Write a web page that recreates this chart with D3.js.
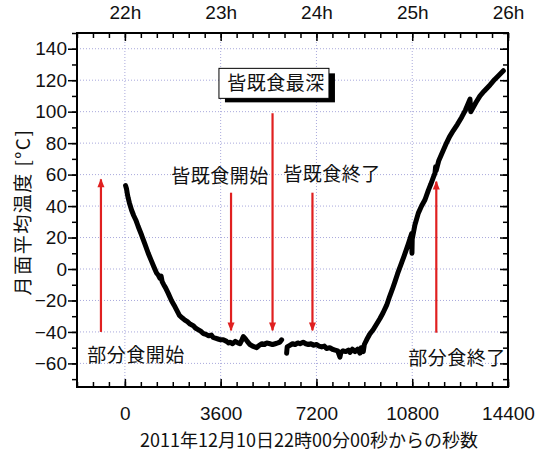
<body style="margin:0"></body>

<script src='https://d3js.org/d3.v7.min.js'></script>
<style>
    svg text { font-family: "Liberation Sans", Arial, sans-serif; fill: #111; }
    svg .jp { font-family: "Noto Sans CJK JP", sans-serif; }
</style>
<script>

    // seconds since 2011-12-10 22:00:00, mean lunar surface temperature
    var seg1Time = [26, 60, 100, 125, 170, 250, 330, 414, 500, 627, 750, 877, 1000, 1100, 1190, 1260, 1320, 1360, 1400,
        1460, 1530, 1630, 1750, 1850, 1943, 2050, 2150, 2256, 2350, 2450, 2570, 2650, 2750, 2850, 2945, 3050, 3150,
        3250, 3320, 3400, 3500, 3600, 3700, 3823, 3900, 3950, 4050, 4150, 4250, 4324, 4400, 4450, 4512, 4600, 4700,
        4800, 4952, 5050, 5150, 5250, 5328, 5452, 5550, 5650, 5750, 5828, 5891];
    var seg1Temp = [53, 51, 47, 45, 42, 37.5, 34, 31, 27, 21.6, 16, 10, 5, 1, -2.5, -4, -6, -4.5, -8,
        -10, -12, -15.5, -20, -23, -26, -29.5, -31, -32.5, -33.5, -35, -36, -37.5, -38.5, -39.5, -41, -41.5, -42.5,
        -42, -43.5, -44, -44.5, -45, -45, -46, -47, -46.5, -47.5, -46, -47, -47.5, -45, -43, -44, -46, -48,
        -49, -50, -48.5, -47.5, -48, -47, -47.5, -48, -47.5, -47, -46.5, -45];

    var seg2Time = [6079, 6100, 6200, 6300, 6400, 6500, 6580, 6700, 6800, 6900, 7000, 7080, 7200, 7300, 7400, 7500,
        7582, 7700, 7800, 7900, 8000, 8084, 8120, 8200, 8300, 8400, 8460, 8550, 8650, 8750, 8836, 8880, 8960, 9000,
        9087, 9200, 9337, 9463, 9588, 9700, 9839, 9950, 10050, 10152, 10250, 10403, 10500, 10654, 10740, 10779,
        10790, 10800, 10900, 11029, 11150, 11280, 11405, 11500, 11600, 11656, 11680, 11700, 11800, 11968, 12100,
        12200, 12344, 12500, 12659, 12800, 12900, 12972, 13000, 13100, 13200, 13348, 13500, 13724, 13900, 14050, 14225];
    var seg2Temp = [-53.5, -49.5, -48.5, -47.5, -48, -47, -47.5, -46.5, -47.5, -48, -47.5, -48.5, -48, -49, -49.5, -49,
        -50.5, -50, -51, -51.5, -52, -56, -53, -52, -52.5, -51.5, -53, -51, -52.5, -51, -53.5, -50, -52.5, -48,
        -45, -41.5, -38.5, -35, -31.5, -28, -23, -17.5, -13, -8, -3, 4, 8.5, 16, 20.5, 22.5,
        10, 19, 28, 35.5, 40, 44, 50, 54, 58.5, 61, 65, 62.5, 69, 75.5, 80.5,
        84, 88, 92, 96.5, 101, 105, 108, 100, 103, 106, 110, 113, 117, 120.5, 123, 126];

    // eclipse events
    var eventNames = ["部分食開始", "皆既食開始", "皆既食最深", "皆既食終了", "部分食終了"];
    var eventTime = [-900, 3990, 5550, 7050, 11705];
    var arrowFrom = [-40, 48.5, 99, 48.5, -40.5];
    var arrowTo = [57, -39, -39, -39, 55.5];
    var labelTime = [414, 3572, 5678, 7783, 12483];
    var labelTemp = [-54.7, 59, 118, 60, -56.6];

    var xTicks = [0, 3600, 7200, 10800, 14400];
    var hourLabels = ["22h", "23h", "24h", "25h", "26h"];
    var yTicks = [-60, -40, -20, 0, 20, 40, 60, 80, 100, 120, 140];

    var width = 539, height = 452;
    var plotLeft = 77, plotRight = 508, plotTop = 33, plotBottom = 387;

    var svg = d3.select("body").append("svg")
        .attr("width", width)
        .attr("height", height);

    var x = d3.scaleLinear().domain([-1800, 14400]).range([plotLeft, plotRight]);
    var y = d3.scaleLinear().domain([-75, 150]).range([plotBottom, plotTop]);

    // grid
    svg.append("g").selectAll("line").data(yTicks).enter().append("line")
        .attr("x1", plotLeft).attr("x2", plotRight)
        .attr("y1", function (d) { return y(d); }).attr("y2", function (d) { return y(d); })
        .attr("stroke", "#a9a9dc").attr("stroke-width", 1).attr("stroke-dasharray", "1,2");
    svg.append("g").selectAll("line").data(xTicks.slice(0, 4)).enter().append("line")
        .attr("y1", plotTop).attr("y2", plotBottom)
        .attr("x1", function (d) { return x(d); }).attr("x2", function (d) { return x(d); })
        .attr("stroke", "#a9a9dc").attr("stroke-width", 1).attr("stroke-dasharray", "1,2");

    // axes
    var minorX = d3.range(-1800, 14401, 600);
    var minorY = d3.range(-70, 151, 10);

    var bottomAxis = d3.axisBottom(x).tickValues(xTicks).tickSize(-8).tickPadding(20).tickFormat(d3.format("d"));
    var topAxis = d3.axisTop(x).tickValues(xTicks).tickSize(-8).tickPadding(14)
        .tickFormat(function (d, i) { return hourLabels[i]; });
    var leftAxis = d3.axisLeft(y).tickValues(yTicks).tickSize(9).tickPadding(1);
    var rightAxis = d3.axisRight(y).tickValues(yTicks).tickSize(-8).tickFormat("");

    function styleAxis(g) {
        g.select(".domain").remove();
        g.selectAll(".tick line").attr("stroke", "#000").attr("stroke-width", 1.5);
        g.selectAll("text").style("font-size", "19px").attr("fill", "#111");
    }

    svg.append("g").attr("transform", "translate(0," + plotBottom + ")").call(bottomAxis).call(styleAxis);
    svg.append("g").attr("transform", "translate(0," + plotTop + ")").call(topAxis).call(styleAxis);
    svg.append("g").attr("transform", "translate(" + plotLeft + ",0)").call(leftAxis).call(styleAxis);
    svg.append("g").attr("transform", "translate(" + plotRight + ",0)").call(rightAxis).call(styleAxis);

    svg.append("g").attr("transform", "translate(0," + plotBottom + ")")
        .call(d3.axisBottom(x).tickValues(minorX).tickSize(-5).tickFormat("")).call(styleAxis);
    svg.append("g").attr("transform", "translate(0," + plotTop + ")")
        .call(d3.axisTop(x).tickValues(minorX).tickSize(-5).tickFormat("")).call(styleAxis);
    svg.append("g").attr("transform", "translate(" + plotLeft + ",0)")
        .call(d3.axisLeft(y).tickValues(minorY).tickSize(5).tickFormat("")).call(styleAxis);
    svg.append("g").attr("transform", "translate(" + plotRight + ",0)")
        .call(d3.axisRight(y).tickValues(minorY).tickSize(-5).tickFormat("")).call(styleAxis);

    svg.append("rect")
        .attr("x", plotLeft).attr("y", plotTop)
        .attr("width", plotRight - plotLeft).attr("height", plotBottom - plotTop)
        .attr("fill", "none").attr("stroke", "#000").attr("stroke-width", 2);

    // arrows
    svg.append("defs").append("marker")
        .attr("id", "head")
        .attr("viewBox", "0 0 10 10")
        .attr("refX", 9).attr("refY", 5)
        .attr("markerWidth", 4.5).attr("markerHeight", 4)
        .attr("markerUnits", "strokeWidth")
        .attr("orient", "auto")
        .append("path").attr("d", "M0,1 L10,5 L0,9 Z").attr("fill", "#e02020");

    svg.append("g").selectAll("line").data(eventTime).enter().append("line")
        .attr("x1", function (d) { return x(d); })
        .attr("x2", function (d) { return x(d); })
        .attr("y1", function (d, i) { return y(arrowFrom[i]); })
        .attr("y2", function (d, i) { return y(arrowTo[i]); })
        .attr("stroke", "#e02020").attr("stroke-width", 2.2)
        .attr("marker-end", "url(#head)");

    // data line
    var line = d3.line()
        .x(function (d) { return x(d[0]); })
        .y(function (d) { return y(d[1]); });

    [[seg1Time, seg1Temp], [seg2Time, seg2Temp]].forEach(function (s) {
        var pts = s[0].map(function (t, i) { return [t, s[1][i]]; });
        svg.append("path").datum(pts)
            .attr("d", line)
            .attr("fill", "none").attr("stroke", "#000")
            .attr("stroke-width", 5).attr("stroke-linejoin", "round").attr("stroke-linecap", "round");
    });

    // labels
    eventNames.forEach(function (name, i) {
        var cx = x(labelTime[i]), cy = y(labelTemp[i]);
        if (i == 2) {
            svg.append("rect").attr("x", cx - 51).attr("y", cy - 10).attr("width", 110).attr("height", 29)
                .attr("fill", "#000");
            svg.append("rect").attr("x", cx - 57).attr("y", cy - 15).attr("width", 110).attr("height", 30)
                .attr("fill", "#fff").attr("stroke", "#000").attr("stroke-width", 1);
        }
        svg.append("text").attr("class", "jp")
            .attr("x", cx).attr("y", cy)
            .attr("dy", "0.36em")
            .style("text-anchor", "middle")
            .style("font-size", "19px")
            .style("letter-spacing", "0.5px")
            .text(name);
    });

    svg.append("text").attr("class", "jp")
        .attr("x", 309).attr("y", 441).attr("dy", "0.36em")
        .style("text-anchor", "middle").style("font-size", "18px")
        .text("2011年12月10日22時00分00秒からの秒数");

    svg.append("text").attr("class", "jp")
        .attr("transform", "translate(23,212) rotate(-90)")
        .attr("dy", "0.36em")
        .style("text-anchor", "middle").style("font-size", "19px")
        .style("letter-spacing", "1.5px")
        .text("月面平均温度 [°C]");

</script>
